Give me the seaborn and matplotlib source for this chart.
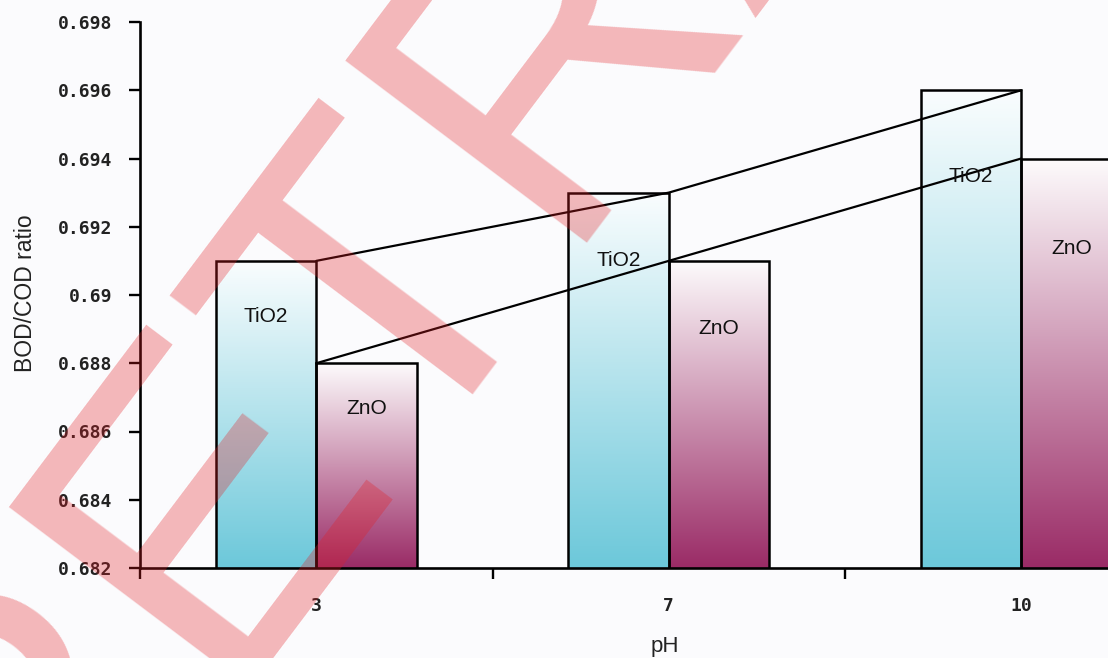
import numpy as np
import pandas as pd
import matplotlib
matplotlib.use("Agg")
import matplotlib.pyplot as plt
import seaborn as sns
from matplotlib.colors import LinearSegmentedColormap
from matplotlib.ticker import FixedLocator, FuncFormatter

# ---------------- data ----------------
ph_levels = ["3", "7", "10"]
catalysts = ["TiO2", "ZnO"]
tio2_ratio = [0.691, 0.693, 0.696]
zno_ratio = [0.688, 0.691, 0.694]
y_ticks = [0.682, 0.684, 0.686, 0.688, 0.690, 0.692, 0.694, 0.696, 0.698]

df = pd.DataFrame({
    "pH": ph_levels * 2,
    "ratio": tio2_ratio + zno_ratio,
    "catalyst": ["TiO2"] * len(ph_levels) + ["ZnO"] * len(ph_levels),
})

# ---------------- style ----------------
sns.set_style("white")
plt.rcParams["font.family"] = ["Liberation Sans", "DejaVu Sans"]

BG = "#fbfbfd"
W, H = 1108, 658
fig = plt.figure(figsize=(W / 100, H / 100), dpi=100, facecolor=BG)
ax = fig.add_axes([140 / W, 1 - 568 / H, 1 - 140 / W, (568 - 22) / H])
ax.set_facecolor(BG)

ymin, ymax = y_ticks[0], y_ticks[-1]
xmax = (W - 140) / 352.5 - 0.5

sns.barplot(data=df, x="pH", y="ratio", hue="catalyst", order=ph_levels,
            hue_order=catalysts, width=0.57, errorbar=None, legend=False,
            ax=ax, edgecolor="black", linewidth=1.8)

grad_colors = {"TiO2": ["#fafdfe", "#6cc8da"], "ZnO": ["#fdfbfc", "#9a2b66"]}
label_frac = {"TiO2": 0.82, "ZnO": 0.78}
grad = np.linspace(1, 0, 256).reshape(-1, 1)

for cat, container in zip(catalysts, ax.containers):
    cmap = LinearSegmentedColormap.from_list(cat, grad_colors[cat])
    for bar in container:
        bar.set_facecolor("none")
        bar.set_zorder(2)
        x0 = bar.get_x()
        x1 = x0 + bar.get_width()
        top = bar.get_y() + bar.get_height()
        im = ax.imshow(grad, cmap=cmap, extent=[x0, x1, ymin, top],
                       origin="lower", aspect="auto", zorder=1.5,
                       interpolation="bilinear")
        im.set_clip_path(bar)
        ly = ymin + label_frac[cat] * (top - ymin)
        ax.text((x0 + x1) / 2, ly, cat, ha="center", va="center",
                fontsize=15, color="#111111", zorder=4)

pos = np.arange(len(ph_levels))
ax.plot(pos, tio2_ratio, color="black", lw=1.6, zorder=3)
ax.plot(pos, zno_ratio, color="black", lw=1.6, zorder=3)

ax.set_xlim(-0.5, xmax)
ax.set_ylim(ymin, ymax)

# spines
for s in ["top", "right"]:
    ax.spines[s].set_visible(False)
for s in ["left", "bottom"]:
    ax.spines[s].set_color("black")
    ax.spines[s].set_linewidth(1.9)

tick_font = dict(family="DejaVu Sans Mono", weight="bold", size=13)
ax.yaxis.set_major_locator(FixedLocator(y_ticks))
ax.yaxis.set_major_formatter(FuncFormatter(lambda v, p: f"{v:g}"))
ax.tick_params(axis="y", direction="out", length=8, width=1.7, pad=12,
               colors="black", left=True)
for t in ax.get_yticklabels():
    t.set_fontproperties(tick_font)
    t.set_color("#222222")

ax.set_xticks(pos)
ax.set_xticklabels(ph_levels)
ax.set_xticks(np.arange(len(ph_levels)) - 0.5, minor=True)
ax.tick_params(axis="x", which="major", length=0, pad=21)
ax.tick_params(axis="x", which="minor", direction="out", length=8, width=1.7,
               colors="black", bottom=True)
for t in ax.get_xticklabels():
    t.set_fontproperties(tick_font)
    t.set_color("#222222")

ax.set_xlabel("pH", fontsize=16, color="#222222")
ax.xaxis.set_label_coords((665 - 140) / (W - 140), (568 - 636) / (568 - 22))
ax.set_ylabel("BOD/COD ratio", fontsize=16.5, color="#222222")
ax.yaxis.set_label_coords((37 - 140) / (W - 140), (568 - 293) / (568 - 22))

# retraction watermark
fig.text(25 / W, 1 - 941 / H, "RETRACTED", rotation=53, rotation_mode="anchor",
         ha="left", va="baseline", fontsize=315, family="Liberation Sans",
         color="#e31e24", alpha=0.31, zorder=10)

fig.savefig("out.png", dpi=100, facecolor=BG)
